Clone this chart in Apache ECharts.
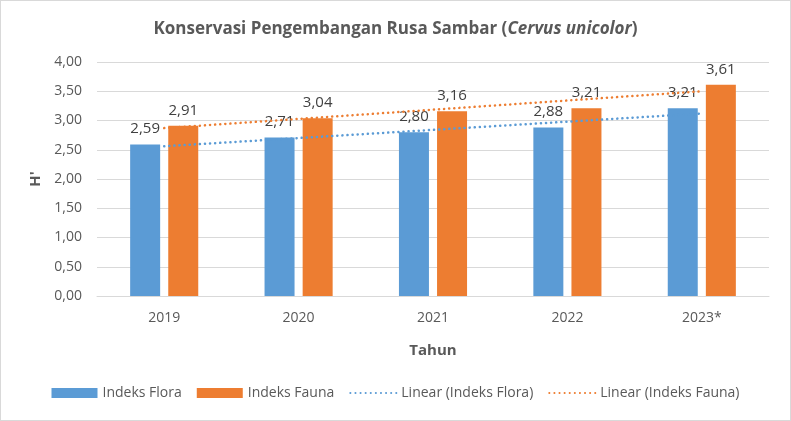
<!DOCTYPE html>
<html>
<head>
<meta charset="utf-8">
<script src="https://cdn.jsdelivr.net/npm/echarts@6/dist/echarts.min.js"></script>
<style>
html,body{margin:0;padding:0;background:#fff;}
#c{width:791px;height:421px;box-sizing:border-box;border:1px solid #d9d9d9;}
</style>
</head>
<body>
<div id="c"></div>
<script>
const categories = ['2019', '2020', '2021', '2022', '2023*'];
const floraValues = [2.59, 2.71, 2.80, 2.88, 3.21];
const faunaValues = [2.91, 3.04, 3.16, 3.21, 3.61];
// trendline endpoints (first and last category)
const floraTrendEnds = [2.56, 3.12];
const faunaTrendEnds = [2.87, 3.50];
const yTicks = { min: 0, max: 4, interval: 0.5 };

const FONT = '"Open Sans", "Liberation Sans", sans-serif';
const fmt = v => v.toFixed(2).replace('.', ',');
const dotted = c => ({ color: c, width: 2.5, type: [0.1, 5], cap: 'round' });

const chart = echarts.init(document.getElementById('c'), null, { renderer: 'canvas' });
chart.setOption({
  backgroundColor: '#fff',
  textStyle: { fontFamily: FONT },
  title: {
    text: '{b|Konservasi Pengembangan Rusa Sambar (}{i|Cervus unicolor}{b|)}',
    left: 'center',
    top: 15,
    textStyle: {
      rich: {
        b: { fontFamily: FONT, fontSize: 17, fontWeight: 'bold', color: '#595959' },
        i: { fontFamily: FONT, fontSize: 17, fontWeight: 'bold', fontStyle: 'italic', color: '#595959' }
      }
    }
  },
  grid: { left: 96, right: 21, top: 61, bottom: 124, outerBoundsMode: 'none' },
  legend: {
    bottom: 15,
    left: 'center',
    itemWidth: 46,
    itemHeight: 10,
    itemGap: 15,
    textStyle: { fontFamily: FONT, fontSize: 14, color: '#595959' },
    data: [
      { name: 'Indeks Flora', icon: 'rect' },
      { name: 'Indeks Fauna', icon: 'rect' },
      { name: 'Linear (Indeks Flora)', itemStyle: { opacity: 0 } },
      { name: 'Linear (Indeks Fauna)', itemStyle: { opacity: 0 } }
    ]
  },
  xAxis: {
    type: 'category',
    data: categories,
    name: 'Tahun',
    nameLocation: 'middle',
    nameGap: 47,
    nameTextStyle: { fontFamily: FONT, fontSize: 15, fontWeight: 'bold', color: '#595959' },
    axisLine: { lineStyle: { color: '#d9d9d9' } },
    axisTick: { show: false },
    axisLabel: { fontFamily: FONT, fontSize: 14, color: '#595959', margin: 15 }
  },
  yAxis: {
    type: 'value',
    min: yTicks.min,
    max: yTicks.max,
    interval: yTicks.interval,
    name: "H'",
    nameLocation: 'middle',
    nameGap: 48,
    nameRotate: 90,
    nameTextStyle: { fontFamily: FONT, fontSize: 15, fontWeight: 'bold', color: '#595959' },
    axisLine: { show: false },
    axisTick: { show: false },
    splitLine: { lineStyle: { color: '#d9d9d9' } },
    axisLabel: { fontFamily: FONT, fontSize: 14, color: '#595959', margin: 15, formatter: v => fmt(v) }
  },
  series: [
    {
      name: 'Indeks Flora', type: 'bar', data: floraValues,
      barWidth: 30, barGap: '27%',
      itemStyle: { color: '#5B9BD5' },
      label: { show: true, position: 'top', distance: 8, fontFamily: FONT, fontSize: 15, color: '#404040', formatter: p => fmt(p.value) },
      z: 2
    },
    {
      name: 'Indeks Fauna', type: 'bar', data: faunaValues,
      barWidth: 30,
      itemStyle: { color: '#ED7D31' },
      label: { show: true, position: 'top', distance: 8, fontFamily: FONT, fontSize: 15, color: '#404040', formatter: p => fmt(p.value) },
      z: 2
    },
    {
      name: 'Linear (Indeks Flora)', type: 'line',
      data: [[categories[0], floraTrendEnds[0]], [categories[categories.length - 1], floraTrendEnds[1]]],
      symbol: 'none', silent: true,
      itemStyle: { color: '#5B9BD5' },
      lineStyle: dotted('#5B9BD5'),
      z: 3
    },
    {
      name: 'Linear (Indeks Fauna)', type: 'line',
      data: [[categories[0], faunaTrendEnds[0]], [categories[categories.length - 1], faunaTrendEnds[1]]],
      symbol: 'none', silent: true,
      itemStyle: { color: '#ED7D31' },
      lineStyle: dotted('#ED7D31'),
      z: 3
    }
  ]
});
</script>
</body>
</html>
